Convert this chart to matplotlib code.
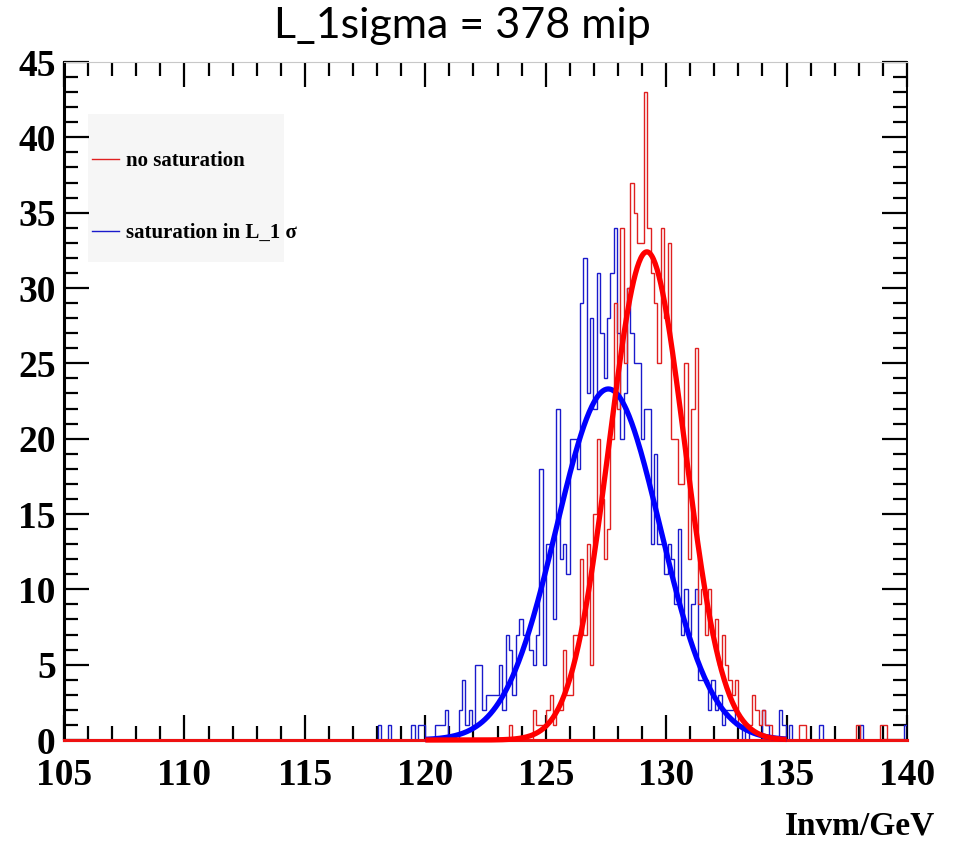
import matplotlib
matplotlib.use("Agg")
import matplotlib.pyplot as plt
import numpy as np
from matplotlib.ticker import MultipleLocator
from matplotlib.lines import Line2D
from matplotlib.patches import Rectangle

# histogram binning: 250 bins from 105 to 140 GeV, values listed from bin 90 on
x_lo, x_hi, n_bins = 105.0, 140.0, 250
first_bin = 90

blue_counts = [
    0, 0, 0, 1, 0, 0, 1, 0, 0, 0,
    0, 0, 0, 1, 0, 1, 1, 0, 0, 0,
    1, 1, 1, 2, 0, 0, 0, 2, 4, 1,
    2, 1, 5, 5, 2, 3, 3, 3, 3, 5,
    2, 7, 6, 3, 7, 8, 7, 7, 6, 5,
    7, 18, 5, 13, 13, 8, 22, 12, 13, 11,
    20, 20, 18, 29, 32, 23, 28, 22, 31, 27,
    24, 28, 31, 34, 27, 20, 23, 30, 27, 25,
    25, 20, 22, 22, 13, 19, 13, 13, 11, 13,
    12, 9, 14, 7, 10, 7, 9, 10, 4, 4,
    4, 2, 4, 2, 3, 1, 2, 2, 2, 1,
    1, 0, 1, 0, 0, 0, 0, 2, 1, 0,
    0, 0, 2, 1, 0, 1, 0, 0, 0, 0,
    0, 0, 0, 0, 1, 0, 0, 0, 0, 0,
    0, 0, 0, 0, 0, 0, 1, 0, 0, 0,
    0, 0, 0, 0, 0, 0, 0, 0, 0, 1,
]

red_counts = [
    0, 0, 0, 0, 0, 0, 0, 0, 0, 0,
    0, 0, 0, 0, 0, 0, 0, 0, 0, 0,
    0, 0, 0, 0, 0, 0, 0, 0, 0, 0,
    0, 0, 0, 0, 0, 0, 0, 0, 0, 0,
    0, 0, 1, 0, 0, 0, 0, 0, 0, 2,
    1, 1, 1, 2, 3, 1, 2, 2, 6, 3,
    3, 7, 7, 12, 7, 13, 5, 15, 20, 16,
    12, 14, 20, 29, 22, 34, 25, 30, 37, 35,
    33, 33, 43, 34, 31, 29, 25, 34, 28, 33,
    20, 20, 17, 17, 25, 12, 22, 26, 9, 10,
    7, 10, 7, 8, 5, 7, 5, 4, 3, 4,
    1, 1, 1, 1, 3, 2, 1, 2, 1, 1,
    0, 0, 0, 0, 0, 0, 0, 0, 1, 1,
    0, 0, 0, 0, 0, 0, 0, 0, 0, 0,
    0, 0, 0, 0, 0, 1, 0, 0, 0, 0,
    0, 0, 1, 1, 0, 0, 0, 0, 0, 0,
]

# gaussian fit results (amplitude, mean, sigma) and fit range
blue_fit = (23.3, 127.6, 2.15)
red_fit = (32.4, 129.2, 1.57)
fit_range = (120.0, 135.0)

title = "L_1sigma = 378 mip"
xlabel = "Invm/GeV"
labels = ["no saturation", "saturation in L_1 σ"]

TICKFONT = {"family": "Liberation Serif", "weight": "bold"}


def full_hist(counts):
    h = np.zeros(n_bins)
    h[first_bin:first_bin + len(counts)] = counts
    return h


def gaus(x, par):
    a, mu, s = par
    return a * np.exp(-0.5 * ((x - mu) / s) ** 2)


fig = plt.figure(figsize=(9.55, 8.56), dpi=100)
ax = fig.add_axes([64 / 955, 1 - 740 / 856, (907 - 64) / 955, (740 - 62) / 856])

edges = np.linspace(x_lo, x_hi, n_bins + 1)
ax.stairs(full_hist(blue_counts), edges, color="#1a1acc", lw=1.0, zorder=3)
ax.stairs(full_hist(red_counts), edges, color="#e02020", lw=1.0, zorder=4)
# red zero line sits on the axis, ROOT draws it thick there
ax.plot([x_lo, x_hi], [0, 0], color="#ee1111", lw=2.2, zorder=5, clip_on=False)

xf = np.linspace(fit_range[0], fit_range[1], 400)
ax.plot(xf, gaus(xf, blue_fit), color="#0000ff", lw=3.8, zorder=6,
        solid_capstyle="butt", clip_on=False)
ax.plot(xf, gaus(xf, red_fit), color="#ff0000", lw=3.8, zorder=7,
        solid_capstyle="butt", clip_on=False)

ax.set_xlim(x_lo, x_hi)
ax.set_ylim(0, 45)

# ROOT-like frame
for side in ["left", "bottom"]:
    ax.spines[side].set_linewidth(2.2)
    ax.spines[side].set_color("black")
ax.spines["right"].set_linewidth(1.4)
ax.spines["right"].set_color("black")
ax.spines["top"].set_linewidth(0.8)
ax.spines["top"].set_color("#c8c8c8")

ax.xaxis.set_major_locator(MultipleLocator(5))
ax.xaxis.set_minor_locator(MultipleLocator(1))
ax.yaxis.set_major_locator(MultipleLocator(5))
ax.yaxis.set_minor_locator(MultipleLocator(1))
ax.tick_params(which="both", direction="in", top=True, right=True, width=1.6,
               color="black")
ax.tick_params(which="major", length=18)
ax.tick_params(which="minor", length=10)
ax.tick_params(axis="x", which="major", pad=13)
ax.tick_params(axis="y", which="major", pad=6)

for lab in ax.get_xticklabels() + ax.get_yticklabels():
    lab.set_fontfamily(TICKFONT["family"])
    lab.set_fontweight(TICKFONT["weight"])
    lab.set_fontsize(27)

fig.text(935 / 955, 1 - 826 / 856, xlabel, ha="right", va="center",
         fontsize=24, **TICKFONT)
fig.text(462 / 955, 1 - 26 / 856, title, ha="center", va="center",
         fontsize=31, family="Lato")

# legend: faint grey box, entries placed by hand like the ROOT TLegend
ax_w, ax_h = 907 - 64, 740 - 62
box = Rectangle(((88 - 64) / ax_w, (740 - 262) / ax_h), 196 / ax_w, 148 / ax_h,
                transform=ax.transAxes, facecolor="#f6f6f6", edgecolor="none",
                zorder=1)
ax.add_patch(box)
handles = [Line2D([], [], color="#e02020", lw=1.0),
           Line2D([], [], color="#1a1acc", lw=1.0)]
leg = ax.legend(handles, labels, loc="upper left",
                bbox_to_anchor=((92 - 64) / ax_w, (740 - 151) / ax_h),
                prop={"family": "Liberation Serif", "weight": "bold", "size": 15},
                handlelength=1.3, handletextpad=0.35, labelspacing=2.5,
                borderpad=0.0, borderaxespad=0.0, frameon=False)

fig.savefig("out.png", dpi=100)
